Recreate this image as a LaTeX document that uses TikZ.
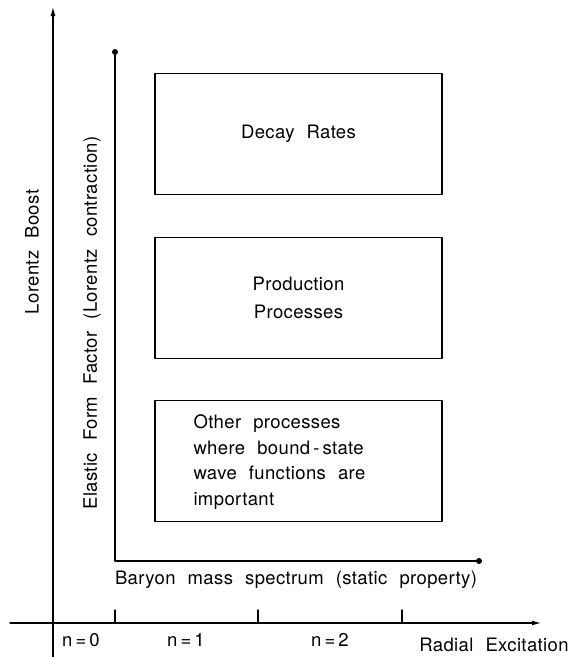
\documentclass[tikz,border=0pt]{standalone}
\usepackage{fontspec}
\setmainfont{TeX Gyre Heros}[WordSpace=2.2,LetterSpace=2]
\usetikzlibrary{arrows.meta}

\begin{document}
\begin{tikzpicture}[x=1pt,y=-1pt,line cap=round,line join=round,
    every node/.style={font=\fontsize{18.5}{25.5}\selectfont},
    procbox/.style={draw,line width=1.3pt,minimum width=287pt,minimum height=121pt},
    axisline/.style={line width=1.1pt},
    enddot/.style={circle,fill,inner sep=0pt,minimum size=6pt}]
        \useasboundingbox (0,0) rectangle (576,657);

        % axes
        \coordinate (xstart) at (10,623);
        \coordinate (xend) at (541,623);
        \coordinate (ystart) at (53,657);
        \coordinate (yend) at (53,7);
        \draw[axisline,-{Latex[length=9pt,width=5pt]}] (xstart) -- (xend);
        \draw[axisline,-{Latex[length=9pt,width=5pt]}] (ystart) -- (yend);
        \foreach \x in {115,258,402} {
            \draw[axisline] (\x,610) -- (\x,623);
        }

        % inner frame
        \node[enddot] (top) at (115,52) {};
        \node[enddot] (right) at (479,561) {};
        \coordinate (corner) at (115,561);
        \draw[line width=1.3pt] (top) -- (corner) -- (right);

        % boxes
        \node[procbox] (decay) at (298.5,134) {Decay Rates};
        \node[procbox,align=center,font=\fontsize{18.5}{28}\selectfont] (prod) at (298.5,298) {Production\\Processes};
        \node[procbox] (other) at (298.5,461) {};
        \node[align=left,anchor=west] (othertxt) at (190,462)
            {Other processes\\where bound\,-\,state\\wave functions are\\important};

        % labels
        \node[rotate=90] (boost) at (32,252) {Lorentz Boost};
        \node[rotate=90] (formfactor) at (92,323) {Elastic Form Factor (Lorentz contraction)};
        \node (spectrum) at (296,580) {Baryon mass spectrum (static property)};
        \node (n0) at (81,640) {n\,=\,0};
        \node (n1) at (186,640) {n\,=\,1};
        \node (n2) at (330,640) {n\,=\,2};
        \node[inner sep=1pt] (radial) at (494,645) {Radial Excitation};
    \end{tikzpicture}
\end{document}
